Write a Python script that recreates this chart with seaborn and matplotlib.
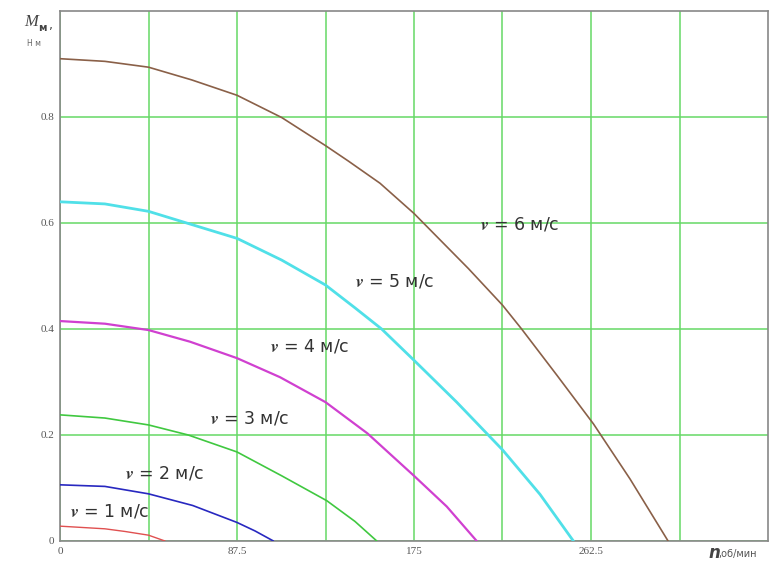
import numpy as np
import pandas as pd
import matplotlib
matplotlib.use("Agg")
import matplotlib.pyplot as plt
import seaborn as sns

# speed curves: n (об/мин) -> M (Н·м)
n_v1 = [0, 22.2, 32.1, 43.75, 51.9]
m_v1 = [0.028, 0.023, 0.018, 0.011, 0.0]

n_v2 = [0, 22.2, 43.75, 65.6, 87.5, 96.4, 105.5]
m_v2 = [0.106, 0.103, 0.089, 0.067, 0.035, 0.019, 0.0]

n_v3 = [0, 22.2, 43.75, 63.4, 87.5, 109.6, 131.9, 145.8, 156.6]
m_v3 = [0.238, 0.232, 0.219, 0.200, 0.168, 0.123, 0.076, 0.037, 0.0]

n_v4 = [0, 22.2, 43.75, 64.3, 87.5, 108.8, 131.25, 152, 175, 191.2, 206]
m_v4 = [0.415, 0.410, 0.398, 0.376, 0.345, 0.309, 0.262, 0.203, 0.123, 0.065, 0.0]

n_v5 = [0, 22.2, 43.75, 62.6, 87.5, 109.6, 131.25, 145.8, 159, 175, 196.1, 218.75, 237.3, 253.8]
m_v5 = [0.640, 0.636, 0.622, 0.600, 0.571, 0.530, 0.483, 0.440, 0.400, 0.341, 0.262, 0.172, 0.088, 0.0]

n_v6 = [0, 22.2, 43.75, 65.1, 87.5, 109.6, 131.25, 142.5, 158.2, 175, 201.9, 218.75, 228.2,
        245.6, 263.7, 281.8, 300.6]
m_v6 = [0.910, 0.905, 0.894, 0.870, 0.841, 0.799, 0.746, 0.717, 0.675, 0.618, 0.514, 0.445, 0.400,
        0.313, 0.221, 0.117, 0.0]

speeds = [1, 2, 3, 4, 5, 6]
curve_n = [n_v1, n_v2, n_v3, n_v4, n_v5, n_v6]
curve_m = [m_v1, m_v2, m_v3, m_v4, m_v5, m_v6]
colors = ["#e05050", "#2828c0", "#40c840", "#d040d0", "#50e0e8", "#8a6048"]
widths = [1.0, 1.2, 1.2, 1.6, 2.0, 1.2]

# label anchor points (data coords)
label_n = [24.7, 51.9, 93.9, 123.6, 165.6, 227.4]
label_m = [0.055, 0.127, 0.231, 0.367, 0.490, 0.597]

x_major = [0, 87.5, 175, 262.5]
x_minor = [43.75, 131.25, 218.75, 306.25]
y_ticks = [0, 0.2, 0.4, 0.6, 0.8]


def main():
    sns.set_style("white")
    plt.rcParams["mathtext.fontset"] = "stix"

    fig = plt.figure(figsize=(7.71, 5.63), dpi=100)
    ax = fig.add_axes([60 / 771, 22 / 563, 708 / 771, 530 / 563])

    for v, n, m, c, w in zip(speeds, curve_n, curve_m, colors, widths):
        df = pd.DataFrame({"n": n, "M": m})
        sns.lineplot(data=df, x="n", y="M", color=c, linewidth=w,
                     sort=True, estimator=None, ax=ax, zorder=3)

    for v, x, y in zip(speeds, label_n, label_m):
        ax.text(x, y, f"$\\mathbfit{{v}}$ = {v} м/с", fontsize=12.5, color="#333333",
                ha="center", va="center", zorder=4)

    ax.set_xlim(0, 350)
    ax.set_ylim(0, 1.0)
    ax.set_xticks(x_major)
    ax.set_xticks(x_minor, minor=True)
    ax.set_xticklabels(["0", "87.5", "175", "262.5"], family="Liberation Serif",
                       fontsize=8, color="#555555")
    ax.set_yticks(y_ticks)
    ax.set_yticklabels(["0", "0.2", "0.4", "0.6", "0.8"], family="Liberation Serif",
                       fontsize=8, color="#555555")
    ax.tick_params(axis="both", which="both", length=0, pad=4)
    ax.grid(True, which="both", axis="x", color="#66d866", linewidth=1.1, zorder=1)
    ax.grid(True, which="major", axis="y", color="#66d866", linewidth=1.1, zorder=1)
    ax.set_axisbelow(True)
    for s in ax.spines.values():
        s.set_color("#888888")
        s.set_linewidth(1.2)
    ax.set_xlabel("")
    ax.set_ylabel("")

    # axis captions in Mathcad style
    fig.text(24 / 771, 1 - 26 / 563, "M", fontsize=12, style="italic",
             family="Liberation Serif", color="#444444")
    fig.text(38 / 771, 1 - 31 / 563, "м", fontsize=7.5, weight="bold",
             color="#444444")
    fig.text(49 / 771, 1 - 29 / 563, ",", fontsize=9, color="#444444")
    fig.text(27 / 771, 1 - 46 / 563, "Н м", fontsize=5.5, color="#666666")
    fig.text(708 / 771, 1 - 558 / 563, "n", fontsize=12, style="italic",
             weight="bold", color="#444444")
    fig.text(718 / 771, 1 - 557 / 563, ",об/мин", fontsize=7, color="#555555")

    fig.savefig("out.png", dpi=100)


if __name__ == "__main__":
    main()
